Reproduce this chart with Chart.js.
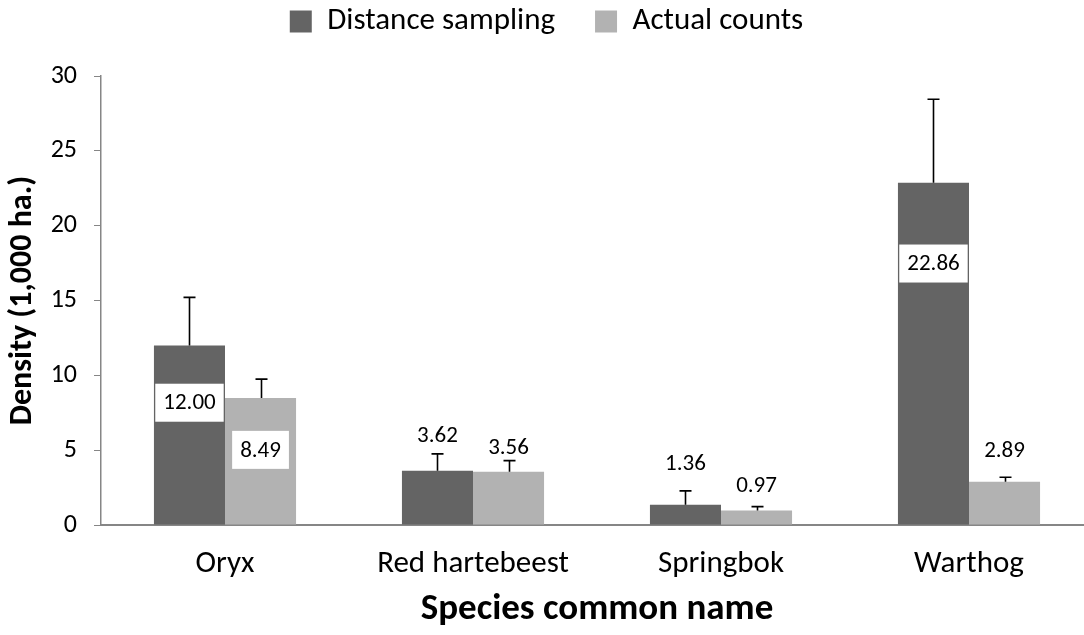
<!DOCTYPE html>
<html>
<head>
<meta charset="utf-8">
<script src="https://cdn.jsdelivr.net/npm/chart.js@4"></script>
<style>
  body { margin: 0; overflow: hidden; background: #fff; }
</style>
</head>
<body>
<canvas id="densityChart" width="1093" height="635"></canvas>
<script>
const species = ['Oryx', 'Red hartebeest', 'Springbok', 'Warthog'];
const distanceSampling = [12.00, 3.62, 1.36, 22.86];
const actualCounts = [8.49, 3.56, 0.97, 2.89];
// upper error (plus only, like the excel original)
const distanceErr = [3.21, 1.13, 0.92, 5.59];
const actualErr = [1.26, 0.74, 0.26, 0.30];
const yTicks = [0, 5, 10, 15, 20, 25, 30];

const FONT = 'Calibri, Carlito, Lato, sans-serif';

// draws value labels (white boxes) and the error bars
const barExtras = {
  id: 'barExtras',
  beforeInit(chart) {
    // leave some room under the legend
    const fit = chart.legend.fit;
    chart.legend.fit = function () {
      fit.call(this);
      this.height += 29;
    };
  },
  afterDatasetsDraw(chart, args, opts) {
    const ctx = chart.ctx;
    const y = chart.scales.y;
    ctx.save();
    ctx.font = '23px ' + FONT;
    ctx.textAlign = 'center';
    ctx.textBaseline = 'middle';
    chart.data.datasets.forEach((ds, i) => {
      const meta = chart.getDatasetMeta(i);
      meta.data.forEach((bar, j) => {
        const txt = ds.data[j].toFixed(2);
        const ly = y.getPixelForValue(opts.labelAt[i][j]);
        const w = ctx.measureText(txt).width + 16;
        ctx.fillStyle = '#ffffff';
        ctx.fillRect(bar.x - w / 2, ly - 19, w, 38);
        ctx.fillStyle = '#000000';
        ctx.fillText(txt, bar.x, ly + 1);
      });
    });
    ctx.strokeStyle = '#000000';
    ctx.lineWidth = 1.6;
    chart.data.datasets.forEach((ds, i) => {
      const meta = chart.getDatasetMeta(i);
      meta.data.forEach((bar, j) => {
        const top = y.getPixelForValue(ds.data[j] + ds.errPlus[j]);
        const x = Math.round(bar.x) + 0.5;
        ctx.beginPath();
        ctx.moveTo(x, bar.y);
        ctx.lineTo(x, top);
        ctx.moveTo(x - 6, top);
        ctx.lineTo(x + 6, top);
        ctx.stroke();
      });
    });
    ctx.restore();
  }
};

const ctx = document.getElementById('densityChart').getContext('2d');

new Chart(ctx, {
  type: 'bar',
  data: {
    labels: species,
    datasets: [{
      label: 'Distance sampling',
      data: distanceSampling,
      errPlus: distanceErr,
      backgroundColor: '#646464',
      borderWidth: 0
    }, {
      label: 'Actual counts',
      data: actualCounts,
      errPlus: actualErr,
      backgroundColor: '#b2b2b2',
      borderWidth: 0
    }]
  },
  options: {
    responsive: false,
    animation: false,
    layout: { padding: { top: -34, left: 0, right: 0, bottom: 0 } },
    datasets: {
      bar: { categoryPercentage: 0.573, barPercentage: 1.0 }
    },
    plugins: {
      legend: {
        position: 'top',
        labels: {
          color: '#000',
          boxWidth: 22,
          boxHeight: 22,
          padding: 40,
          font: { family: FONT, size: 31 }
        }
      },
      tooltip: { enabled: false },
      barExtras: {
        // where the value labels sit, in data units
        labelAt: [[8.17, 6.02, 4.15, 17.47], [5.02, 5.22, 2.68, 5.02]]
      }
    },
    scales: {
      x: {
        grid: { display: false },
        border: { display: true, color: '#868686', width: 2 },
        ticks: {
          color: '#000',
          padding: 13,
          font: { family: FONT, size: 31 }
        },
        title: {
          display: true,
          text: 'Species common name',
          color: '#000',
          padding: { top: 0, bottom: 3 },
          font: { family: FONT, size: 37, weight: 'bold' }
        },
        afterFit(scale) { scale.height = 110; }
      },
      y: {
        min: 0,
        max: 30,
        afterBuildTicks(scale) { scale.ticks = yTicks.map(v => ({ value: v })); },
        grid: {
          drawOnChartArea: false,
          drawTicks: true,
          tickLength: 7,
          color: '#868686'
        },
        border: { display: true, color: '#868686', width: 1.5 },
        ticks: {
          color: '#000',
          padding: 17,
          font: { family: FONT, size: 26 }
        },
        title: {
          display: true,
          text: 'Density (1,000 ha.)',
          color: '#000',
          padding: { top: 4, bottom: 0 },
          font: { family: FONT, size: 32, weight: 'bold' }
        },
        afterFit(scale) { scale.width = 101; }
      }
    }
  },
  plugins: [barExtras]
});
</script>
</body>
</html>
